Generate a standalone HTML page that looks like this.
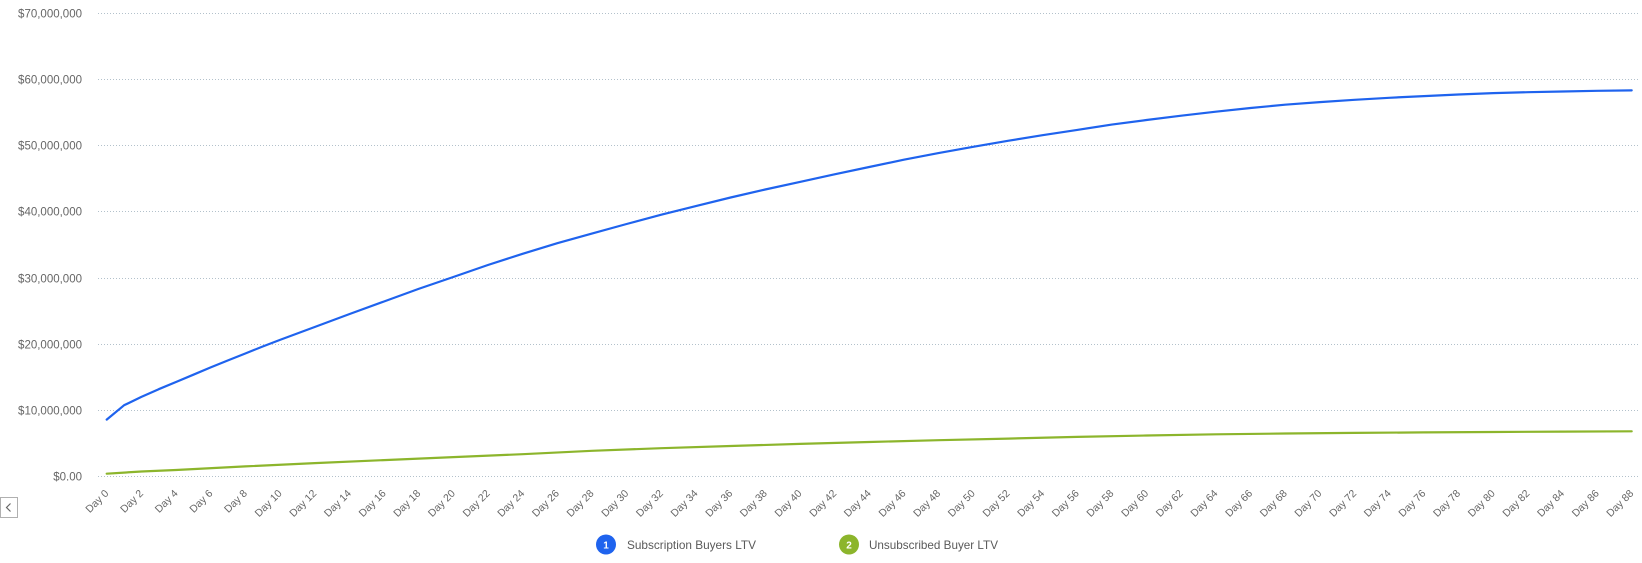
<!DOCTYPE html>
<html>
<head>
<meta charset="utf-8">
<style>
  html, body { margin: 0; padding: 0; background: #ffffff; }
  body { width: 1642px; height: 563px; overflow: hidden; }
  svg { display: block; font-family: "Liberation Sans", Arial, sans-serif; }
</style>
</head>
<body>
<svg width="1642" height="563" viewBox="0 0 1642 563" xmlns="http://www.w3.org/2000/svg">
  <!-- gridlines -->
  <g stroke="#b3c1cb" stroke-width="1" stroke-dasharray="1 2" fill="none">
    <line x1="98" y1="13.5" x2="1640" y2="13.5"/>
    <line x1="98" y1="79.5" x2="1640" y2="79.5"/>
    <line x1="98" y1="145.5" x2="1640" y2="145.5"/>
    <line x1="98" y1="211.5" x2="1640" y2="211.5"/>
    <line x1="98" y1="278.5" x2="1640" y2="278.5"/>
    <line x1="98" y1="344.5" x2="1640" y2="344.5"/>
    <line x1="98" y1="410.5" x2="1640" y2="410.5"/>
    <line x1="98" y1="476.5" x2="1640" y2="476.5"/>
  </g>

  <!-- y labels -->
  <g fill="#666666" font-size="11.5" text-anchor="end">
    <text x="82" y="17.5">$70,000,000</text>
    <text x="82" y="83.5">$60,000,000</text>
    <text x="82" y="149.5">$50,000,000</text>
    <text x="82" y="215.5">$40,000,000</text>
    <text x="82" y="282.5">$30,000,000</text>
    <text x="82" y="348.5">$20,000,000</text>
    <text x="82" y="414.5">$10,000,000</text>
    <text x="82" y="480.5">$0.00</text>
  </g>

  <!-- green series -->
  <polyline fill="none" stroke="#8cb52c" stroke-width="2.2" stroke-linejoin="round" stroke-linecap="round"
    points="106.7,473.7 124.0,472.6 141.4,471.5 176.0,470.0 245.3,466.4 314.7,463.1 384.0,460.1 453.3,457.1 522.6,454.2 591.9,450.8 661.3,448.2 730.6,446.0 799.9,443.9 869.2,442.0 938.5,440.2 1007.9,438.6 1077.2,436.9 1146.5,435.5 1215.8,434.3 1285.1,433.5 1354.5,432.9 1423.8,432.4 1493.1,432.0 1562.4,431.6 1631.7,431.3"/>

  <!-- blue series -->
  <polyline fill="none" stroke="#1f63ee" stroke-width="2.2" stroke-linejoin="round" stroke-linecap="round"
    points="106.7,419.6 124.0,405.3 141.4,396.9 158.7,389.2 176.0,382.0 193.4,374.7 210.7,367.4 228.0,360.4 245.3,353.5 262.7,346.5 280.0,339.9 314.7,327.0 349.3,314.1 384.0,301.5 418.6,288.9 453.3,277.0 487.9,265.0 522.6,253.8 557.3,243.2 591.9,233.6 626.6,224.0 661.3,214.7 695.9,206.1 730.6,197.5 765.2,189.5 799.9,181.9 834.6,174.3 869.2,167.0 903.9,159.7 938.5,153.1 973.2,146.8 1007.9,140.8 1042.5,135.2 1077.2,129.9 1111.8,124.6 1146.5,120.0 1181.2,115.7 1215.8,111.7 1250.5,108.0 1285.1,104.7 1319.8,102.1 1354.5,99.8 1389.1,97.8 1423.8,96.1 1458.4,94.5 1493.1,93.1 1527.8,92.2 1562.4,91.5 1597.1,90.8 1631.7,90.4"/>

  <!-- x labels -->
  <g fill="#666666" font-size="10.5" text-anchor="end">
    <text transform="translate(109.2,494) rotate(-45)">Day 0</text>
    <text transform="translate(143.9,494) rotate(-45)">Day 2</text>
    <text transform="translate(178.5,494) rotate(-45)">Day 4</text>
    <text transform="translate(213.2,494) rotate(-45)">Day 6</text>
    <text transform="translate(247.8,494) rotate(-45)">Day 8</text>
    <text transform="translate(282.5,494) rotate(-45)">Day 10</text>
    <text transform="translate(317.2,494) rotate(-45)">Day 12</text>
    <text transform="translate(351.8,494) rotate(-45)">Day 14</text>
    <text transform="translate(386.5,494) rotate(-45)">Day 16</text>
    <text transform="translate(421.1,494) rotate(-45)">Day 18</text>
    <text transform="translate(455.8,494) rotate(-45)">Day 20</text>
    <text transform="translate(490.5,494) rotate(-45)">Day 22</text>
    <text transform="translate(525.1,494) rotate(-45)">Day 24</text>
    <text transform="translate(559.8,494) rotate(-45)">Day 26</text>
    <text transform="translate(594.4,494) rotate(-45)">Day 28</text>
    <text transform="translate(629.1,494) rotate(-45)">Day 30</text>
    <text transform="translate(663.8,494) rotate(-45)">Day 32</text>
    <text transform="translate(698.4,494) rotate(-45)">Day 34</text>
    <text transform="translate(733.1,494) rotate(-45)">Day 36</text>
    <text transform="translate(767.7,494) rotate(-45)">Day 38</text>
    <text transform="translate(802.4,494) rotate(-45)">Day 40</text>
    <text transform="translate(837.1,494) rotate(-45)">Day 42</text>
    <text transform="translate(871.7,494) rotate(-45)">Day 44</text>
    <text transform="translate(906.4,494) rotate(-45)">Day 46</text>
    <text transform="translate(941.0,494) rotate(-45)">Day 48</text>
    <text transform="translate(975.7,494) rotate(-45)">Day 50</text>
    <text transform="translate(1010.4,494) rotate(-45)">Day 52</text>
    <text transform="translate(1045.0,494) rotate(-45)">Day 54</text>
    <text transform="translate(1079.7,494) rotate(-45)">Day 56</text>
    <text transform="translate(1114.3,494) rotate(-45)">Day 58</text>
    <text transform="translate(1149.0,494) rotate(-45)">Day 60</text>
    <text transform="translate(1183.7,494) rotate(-45)">Day 62</text>
    <text transform="translate(1218.3,494) rotate(-45)">Day 64</text>
    <text transform="translate(1253.0,494) rotate(-45)">Day 66</text>
    <text transform="translate(1287.6,494) rotate(-45)">Day 68</text>
    <text transform="translate(1322.3,494) rotate(-45)">Day 70</text>
    <text transform="translate(1357.0,494) rotate(-45)">Day 72</text>
    <text transform="translate(1391.6,494) rotate(-45)">Day 74</text>
    <text transform="translate(1426.3,494) rotate(-45)">Day 76</text>
    <text transform="translate(1460.9,494) rotate(-45)">Day 78</text>
    <text transform="translate(1495.6,494) rotate(-45)">Day 80</text>
    <text transform="translate(1530.3,494) rotate(-45)">Day 82</text>
    <text transform="translate(1564.9,494) rotate(-45)">Day 84</text>
    <text transform="translate(1599.6,494) rotate(-45)">Day 86</text>
    <text transform="translate(1634.2,494) rotate(-45)">Day 88</text>
  </g>

  <!-- scroll button -->
  <rect x="0.5" y="497.5" width="17" height="20" fill="#ffffff" stroke="#b0b0b0" stroke-width="1"/>
  <polyline points="10.5,503.5 6.5,507.5 10.5,511.5" fill="none" stroke="#666666" stroke-width="1.2"/>

  <!-- legend -->
  <circle cx="606" cy="544.5" r="10" fill="#1f63ee"/>
  <text x="606" y="548.3" fill="#ffffff" font-size="10" font-weight="bold" text-anchor="middle">1</text>
  <text x="627" y="548.8" fill="#5a5a5a" font-size="12" textLength="129" lengthAdjust="spacingAndGlyphs">Subscription Buyers LTV</text>

  <circle cx="849" cy="544.5" r="10" fill="#8cb52c"/>
  <text x="849" y="548.3" fill="#ffffff" font-size="10" font-weight="bold" text-anchor="middle">2</text>
  <text x="869" y="548.8" fill="#5a5a5a" font-size="12" textLength="129" lengthAdjust="spacingAndGlyphs">Unsubscribed Buyer LTV</text>
</svg>
</body>
</html>
